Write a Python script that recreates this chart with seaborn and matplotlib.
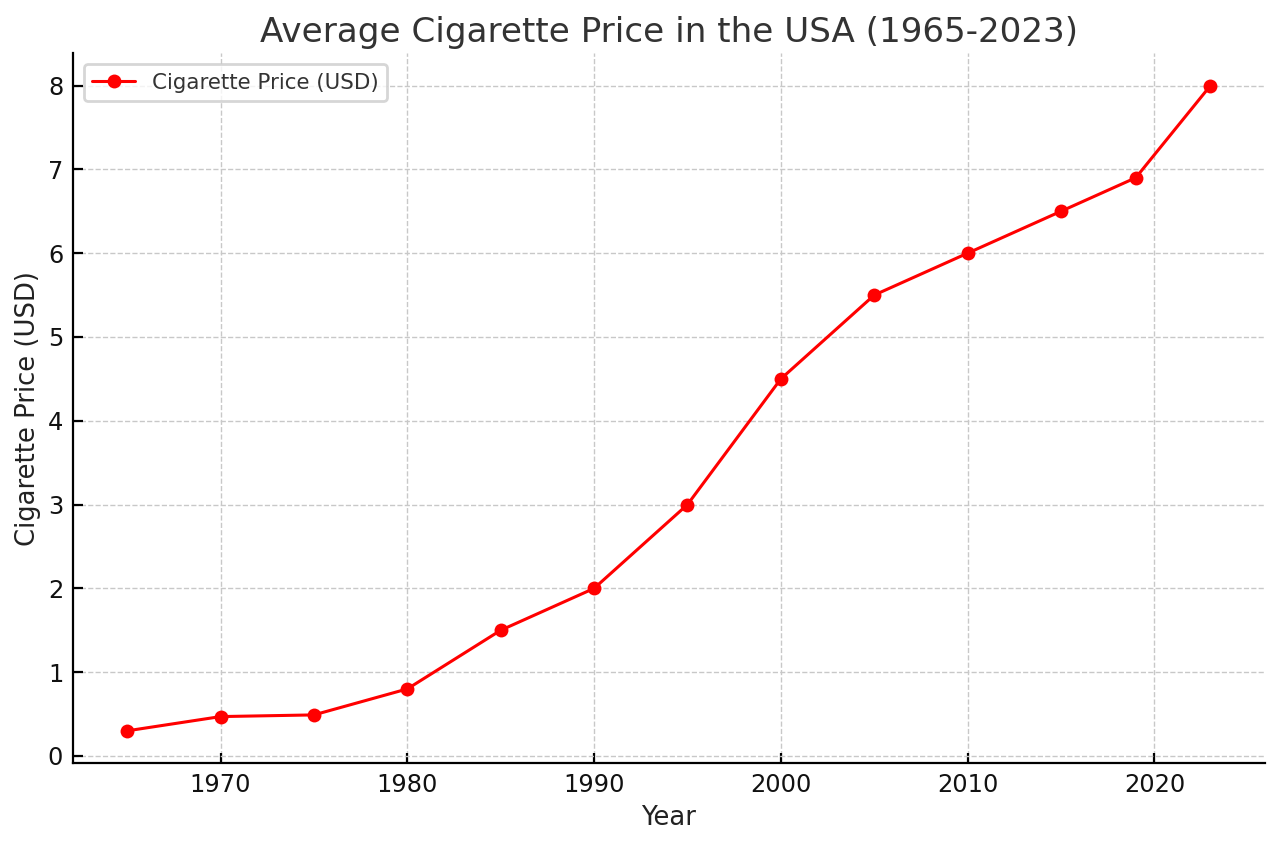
import matplotlib
matplotlib.use("Agg")
import matplotlib.pyplot as plt
import seaborn as sns
import pandas as pd

years = [1965, 1970, 1975, 1980, 1985, 1990, 1995, 2000, 2005, 2010, 2015, 2019, 2023]
prices = [0.30, 0.47, 0.49, 0.80, 1.50, 2.00, 3.00, 4.50, 5.50, 6.00, 6.50, 6.90, 8.00]
series_label = "Cigarette Price (USD)"

df = pd.DataFrame({"Year": years, "Price": prices})

sns.set_theme(style="ticks", rc={
    "axes.edgecolor": "black",
    "axes.linewidth": 0.8,
    "xtick.direction": "in",
    "ytick.direction": "in",
    "text.color": "#333333",
    "axes.labelcolor": "#222222",
    "xtick.color": "black",
    "ytick.color": "black",
    "xtick.labelcolor": "#111111",
    "ytick.labelcolor": "#111111",
})
plt.rcParams["font.family"] = ["DejaVu Sans"]

fig, ax = plt.subplots(figsize=(6.4, 4.23), dpi=200)
sns.lineplot(data=df, x="Year", y="Price", marker="o", color="red",
             markersize=5, markeredgewidth=0, linewidth=1.1,
             label=series_label, ax=ax)

ax.set_title("Average Cigarette Price in the USA (1965-2023)", fontsize=12.3,
             color="#333333", pad=4.2)
ax.set_xlabel("Year", fontsize=9.3, labelpad=3)
ax.set_ylabel("Cigarette Price (USD)", fontsize=9.3, labelpad=2.5)
ax.tick_params(labelsize=8.7, width=0.8, length=3.5)
ax.grid(True, linestyle="--", linewidth=0.5, color="#c8c8c8")
ax.set_axisbelow(True)
sns.despine(ax=ax)
ax.legend(loc="upper left", fontsize=7.7, frameon=True)

fig.subplots_adjust(left=0.057, right=0.988, bottom=0.098, top=0.937)
fig.savefig("out.png", dpi=200)
